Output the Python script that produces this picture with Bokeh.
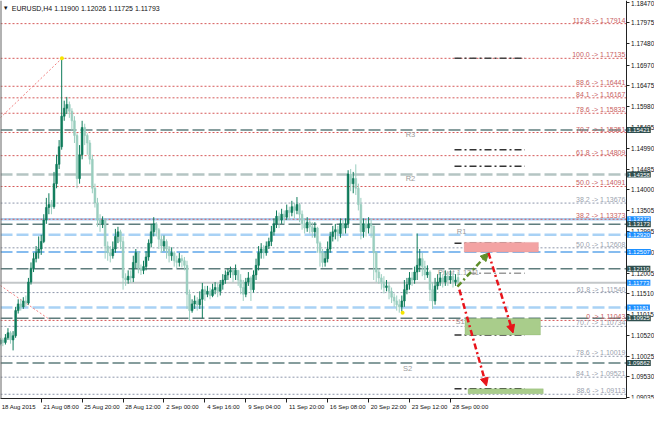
from bokeh.plotting import figure
from bokeh.models import (Range1d, FixedTicker, Span, Label, Arrow, NormalHead,
                          ColumnDataSource, BoxAnnotation)
from bokeh.embed import file_html
from bokeh.resources import INLINE
from bokeh.core.properties import value

FONT = "Liberation Sans"

# ---------------- data ----------------
bars = list(range(-16, 164))  # H4 bar index, 0 = 21 Aug 08:00
opens = [
    1.1032, 1.1041, 1.1035, 1.1046, 1.1058, 1.1041, 1.1051, 1.1111, 1.1127, 1.1120,
    1.1134, 1.1129, 1.1179, 1.1212, 1.1235, 1.1249, 1.1258, 1.1276, 1.1327, 1.1357,
    1.1364, 1.1359, 1.1414, 1.1460, 1.1502, 1.1575, 1.1594, 1.1603, 1.1587, 1.1564,
    1.1529, 1.1426, 1.1483, 1.1548, 1.1529, 1.1511, 1.1472, 1.1403, 1.1368, 1.1327,
    1.1318, 1.1327, 1.1265, 1.1249, 1.1242, 1.1258, 1.1288, 1.1299, 1.1276, 1.1189,
    1.1184, 1.1193, 1.1189, 1.1226, 1.1249, 1.1212, 1.1207, 1.1216, 1.1239, 1.1272,
    1.1299, 1.1318, 1.1304, 1.1281, 1.1265, 1.1276, 1.1258, 1.1242, 1.1249, 1.1230,
    1.1226, 1.1235, 1.1230, 1.1219, 1.1150, 1.1111, 1.1127, 1.1134, 1.1125, 1.1138,
    1.1161, 1.1150, 1.1157, 1.1147, 1.1161, 1.1166, 1.1157, 1.1173, 1.1184, 1.1196,
    1.1203, 1.1207, 1.1196, 1.1207, 1.1184, 1.1166, 1.1150, 1.1179, 1.1189, 1.1161,
    1.1196, 1.1219, 1.1249, 1.1258, 1.1249, 1.1265, 1.1276, 1.1299, 1.1318, 1.1336,
    1.1327, 1.1341, 1.1334, 1.1350, 1.1345, 1.1359, 1.1350, 1.1364, 1.1341, 1.1318,
    1.1308, 1.1322, 1.1311, 1.1299, 1.1308, 1.1272, 1.1249, 1.1226, 1.1235, 1.1258,
    1.1288, 1.1299, 1.1304, 1.1295, 1.1318, 1.1308, 1.1318, 1.1437, 1.1414, 1.1426,
    1.1403, 1.1364, 1.1299, 1.1318, 1.1308, 1.1318, 1.1313, 1.1249, 1.1203, 1.1189,
    1.1179, 1.1166, 1.1170, 1.1157, 1.1143, 1.1134, 1.1125, 1.1120, 1.1134, 1.1161,
    1.1173, 1.1189, 1.1184, 1.1203, 1.1219, 1.1235, 1.1216, 1.1196, 1.1203, 1.1161,
    1.1134, 1.1170, 1.1179, 1.1189, 1.1179, 1.1193, 1.1184, 1.1193, 1.1179, 1.1190,
]
highs = [
    1.1046, 1.1046, 1.1055, 1.1069, 1.1062, 1.1062, 1.1120, 1.1138, 1.1138, 1.1143,
    1.1147, 1.1189, 1.1226, 1.1249, 1.1265, 1.1288, 1.1292, 1.1341, 1.1380, 1.1391,
    1.1375, 1.1442, 1.1483, 1.1518, 1.1713, 1.1612, 1.1621, 1.1610, 1.1594, 1.1575,
    1.1534, 1.1506, 1.1564, 1.1557, 1.1534, 1.1518, 1.1483, 1.1414, 1.1380, 1.1341,
    1.1336, 1.1331, 1.1276, 1.1265, 1.1276, 1.1306, 1.1311, 1.1304, 1.1288, 1.1200,
    1.1207, 1.1207, 1.1242, 1.1258, 1.1253, 1.1221, 1.1230, 1.1253, 1.1281, 1.1318,
    1.1334, 1.1322, 1.1308, 1.1290, 1.1290, 1.1281, 1.1265, 1.1262, 1.1253, 1.1242,
    1.1249, 1.1244, 1.1239, 1.1230, 1.1161, 1.1138, 1.1147, 1.1143, 1.1157, 1.1177,
    1.1170, 1.1170, 1.1166, 1.1175, 1.1179, 1.1177, 1.1184, 1.1198, 1.1207, 1.1212,
    1.1216, 1.1212, 1.1221, 1.1207, 1.1198, 1.1184, 1.1189, 1.1203, 1.1193, 1.1207,
    1.1235, 1.1265, 1.1272, 1.1267, 1.1276, 1.1285, 1.1313, 1.1331, 1.1350, 1.1345,
    1.1354, 1.1350, 1.1364, 1.1359, 1.1373, 1.1368, 1.1382, 1.1368, 1.1350, 1.1331,
    1.1334, 1.1327, 1.1322, 1.1322, 1.1311, 1.1276, 1.1258, 1.1253, 1.1276, 1.1299,
    1.1313, 1.1318, 1.1313, 1.1331, 1.1327, 1.1331, 1.1446, 1.1449, 1.1442, 1.1460,
    1.1414, 1.1380, 1.1331, 1.1327, 1.1334, 1.1331, 1.1313, 1.1253, 1.1212, 1.1198,
    1.1193, 1.1184, 1.1179, 1.1166, 1.1152, 1.1147, 1.1138, 1.1147, 1.1184, 1.1189,
    1.1203, 1.1203, 1.1216, 1.1295, 1.1258, 1.1249, 1.1230, 1.1219, 1.1207, 1.1179,
    1.1189, 1.1198, 1.1203, 1.1198, 1.1207, 1.1203, 1.1207, 1.1200, 1.1198, 1.1203,
]
lows = [
    1.1028, 1.1026, 1.1030, 1.1041, 1.1032, 1.1016, 1.1046, 1.1104, 1.1111, 1.1115,
    1.1120, 1.1125, 1.1173, 1.1203, 1.1226, 1.1235, 1.1244, 1.1272, 1.1318, 1.1341,
    1.1341, 1.1354, 1.1403, 1.1449, 1.1495, 1.1564, 1.1580, 1.1571, 1.1541, 1.1511,
    1.1403, 1.1414, 1.1472, 1.1506, 1.1483, 1.1460, 1.1391, 1.1357, 1.1311, 1.1299,
    1.1308, 1.1235, 1.1230, 1.1226, 1.1235, 1.1249, 1.1272, 1.1258, 1.1161, 1.1170,
    1.1175, 1.1177, 1.1179, 1.1212, 1.1200, 1.1196, 1.1198, 1.1207, 1.1230, 1.1262,
    1.1288, 1.1288, 1.1258, 1.1249, 1.1253, 1.1235, 1.1226, 1.1230, 1.1216, 1.1212,
    1.1216, 1.1214, 1.1207, 1.1115, 1.1087, 1.1106, 1.1115, 1.1111, 1.1115, 1.1092,
    1.1134, 1.1143, 1.1138, 1.1143, 1.1150, 1.1143, 1.1147, 1.1161, 1.1175, 1.1184,
    1.1189, 1.1179, 1.1184, 1.1170, 1.1150, 1.1134, 1.1143, 1.1170, 1.1134, 1.1154,
    1.1184, 1.1207, 1.1235, 1.1235, 1.1242, 1.1258, 1.1265, 1.1290, 1.1308, 1.1308,
    1.1318, 1.1318, 1.1327, 1.1327, 1.1336, 1.1331, 1.1341, 1.1322, 1.1304, 1.1295,
    1.1299, 1.1295, 1.1285, 1.1285, 1.1249, 1.1216, 1.1214, 1.1216, 1.1226, 1.1249,
    1.1276, 1.1281, 1.1276, 1.1285, 1.1290, 1.1295, 1.1308, 1.1396, 1.1391, 1.1387,
    1.1350, 1.1281, 1.1285, 1.1288, 1.1295, 1.1285, 1.1184, 1.1179, 1.1175, 1.1161,
    1.1152, 1.1157, 1.1138, 1.1129, 1.1120, 1.1111, 1.1106, 1.1104, 1.1120, 1.1150,
    1.1161, 1.1170, 1.1175, 1.1184, 1.1203, 1.1193, 1.1184, 1.1189, 1.1134, 1.1115,
    1.1125, 1.1161, 1.1170, 1.1166, 1.1170, 1.1170, 1.1175, 1.1166, 1.1170, 1.1173,
]
closes = [
    1.1041, 1.1035, 1.1046, 1.1058, 1.1041, 1.1051, 1.1111, 1.1127, 1.1120, 1.1134,
    1.1129, 1.1179, 1.1212, 1.1235, 1.1249, 1.1258, 1.1276, 1.1327, 1.1357, 1.1364,
    1.1359, 1.1414, 1.1460, 1.1502, 1.1575, 1.1594, 1.1603, 1.1587, 1.1564, 1.1529,
    1.1426, 1.1483, 1.1548, 1.1529, 1.1511, 1.1472, 1.1403, 1.1368, 1.1327, 1.1318,
    1.1327, 1.1265, 1.1249, 1.1242, 1.1258, 1.1288, 1.1299, 1.1276, 1.1189, 1.1184,
    1.1193, 1.1189, 1.1226, 1.1249, 1.1212, 1.1207, 1.1216, 1.1239, 1.1272, 1.1299,
    1.1318, 1.1304, 1.1281, 1.1265, 1.1276, 1.1258, 1.1242, 1.1249, 1.1230, 1.1226,
    1.1235, 1.1230, 1.1219, 1.1150, 1.1111, 1.1127, 1.1134, 1.1125, 1.1138, 1.1161,
    1.1150, 1.1157, 1.1147, 1.1161, 1.1166, 1.1157, 1.1173, 1.1184, 1.1196, 1.1203,
    1.1207, 1.1196, 1.1207, 1.1184, 1.1166, 1.1150, 1.1179, 1.1189, 1.1161, 1.1196,
    1.1219, 1.1249, 1.1258, 1.1249, 1.1265, 1.1276, 1.1299, 1.1318, 1.1336, 1.1327,
    1.1341, 1.1334, 1.1350, 1.1345, 1.1359, 1.1350, 1.1364, 1.1341, 1.1318, 1.1308,
    1.1322, 1.1311, 1.1299, 1.1308, 1.1272, 1.1249, 1.1226, 1.1235, 1.1258, 1.1288,
    1.1299, 1.1304, 1.1295, 1.1318, 1.1308, 1.1318, 1.1437, 1.1414, 1.1426, 1.1403,
    1.1364, 1.1299, 1.1318, 1.1308, 1.1318, 1.1313, 1.1249, 1.1203, 1.1189, 1.1179,
    1.1166, 1.1170, 1.1157, 1.1143, 1.1134, 1.1125, 1.1120, 1.1134, 1.1161, 1.1173,
    1.1189, 1.1184, 1.1203, 1.1219, 1.1235, 1.1216, 1.1196, 1.1203, 1.1161, 1.1134,
    1.1170, 1.1179, 1.1189, 1.1179, 1.1193, 1.1184, 1.1193, 1.1179, 1.1184, 1.1179,
]

# time axis
time_ticks = [-16, 0, 16, 32, 48, 64, 80, 96, 112, 128, 144, 160]
time_labels = ["18 Aug 2015", "21 Aug 08:00", "25 Aug 20:00", "28 Aug 12:00", "2 Sep 00:00",
               "4 Sep 16:00", "9 Sep 04:00", "11 Sep 20:00", "16 Sep 08:00", "20 Sep 22:00",
               "23 Sep 12:00", "28 Sep 00:00"]
# price axis
price_ticks = [1.18470, 1.17975, 1.17480, 1.16970, 1.16475, 1.15980, 1.15485, 1.14990,
               1.14485, 1.14000, 1.13505, 1.12995, 1.12500, 1.12005, 1.11510, 1.11015,
               1.10520, 1.10025, 1.09530, 1.09035]
price_labels = ["%.5f" % v for v in price_ticks]

# Fibonacci (red, first swing)
red_fib_prices = [1.17959, 1.17131, 1.16464, 1.16188, 1.15820, 1.15360, 1.14808, 1.14072, 1.13290, 1.10875]
red_fib_texts = ["112.8 -> 1.17914", "100.0 -> 1.17135", "88.6 -> 1.16441", "84.1 -> 1.16167",
                 "78.6 -> 1.15832", "70.7 -> 1.15351", "61.8 -> 1.14809", "50.0 -> 1.14091",
                 "38.2 -> 1.13373", "0 -> 1.11043"]
# Fibonacci (grey, second swing)
grey_fib_prices = [1.13676, 1.12608, 1.11540, 1.10734, 1.10019, 1.09521, 1.09113]
grey_fib_texts = ["38.2 -> 1.13676", "50.0 -> 1.12608", "61.8 -> 1.11540", "70.7 -> 1.10734",
                  "78.6 -> 1.10019", "84.1 -> 1.09521", "88.6 -> 1.09113"]

# pivot / level lines
level_prices = [1.15421, 1.14358, 1.13290, 1.13173, 1.12920, 1.12507, 1.12110, 1.11773, 1.11181, 1.10925, 1.09862]
level_colors = ["#5f7d7d", "#b5c5c3", "#a9d2f5", "#5f7d7d", "#a9d2f5", "#5fa6ea", "#5f7d7d",
                "#c3c7c9", "#a9d2f5", "#5f7d7d", "#5f7d7d"]
level_widths = [1.5, 2.5, 2.5, 1.5, 2.5, 1.5, 1.5, 2.0, 2.5, 1.5, 1.5]
level_solid = [False, False, True, False, False, False, False, True, False, False, False]

# price boxes on the axis
box_prices = [1.15421, 1.14358, 1.13290, 1.13173, 1.12920, 1.12507, 1.12110, 1.11773, 1.11181, 1.10925, 1.09862]
box_texts = ["1.15421", "1.14358", "1.13373", "1.13173", "1.12920", "1.12507", "1.12110",
             "1.11773", "1.11181", "1.10925", "1.09862"]
box_colors = ["#2f4f4f", "#2f4f4f", "#1e90ff", "#2f4f4f", "#1e90ff", "#1e90ff", "#2f4f4f",
              "#1e90ff", "#1e90ff", "#2f4f4f", "#2f4f4f"]

# pivot names
pivot_names = ["R3", "R2", "R1", "S1", "S2", "Pivot 1.1211"]
pivot_name_x = [142.5, 142.5, 162.5, 162.0, 141.5, 155.1]
pivot_name_y = [1.15318, 1.14261, 1.12994, 1.10841, 1.09725, 1.12030]

# short dash-dot levels on the right
dd_prices = [1.17131, 1.14946, 1.14555, 1.12715, 1.12002, 1.10530, 1.09242]
dd_colors = ["#444444", "#333333", "#333333", "#333333", "#9a9a9a", "#333333", "#333333"]
dd_x0 = [161.6, 161.6, 161.6, 161.6, 167.3, 161.6, 161.6]
dd_x1 = [189.1, 189.1, 189.1, 189.1, 189.1, 189.1, 189.1]

# trade-idea boxes
zones_l = [165.4, 165.7, 166.9]
zones_r = [194.4, 195.2, 196.3]
zones_b = [1.12508, 1.10530, 1.09127]
zones_t = [1.12738, 1.10921, 1.09242]
zones_fill = ["#f3a3a3", "#a9cd8b", "#a9cd8b"]
zones_line = ["#d98585", "#86ad68", "#86ad68"]

# scenario arrows
arr_x0 = [162.7, 174.9, 163.5]
arr_y0 = [1.11680, 1.12485, 1.11611]
arr_x1 = [174.9, 184.5, 174.1]
arr_y1 = [1.12485, 1.10576, 1.09311]
arr_col = ["#5f8f2a", "#e8141b", "#e8141b"]

# fib trend lines and anchors
trend_x0 = [-16.0, -16.0]
trend_y0 = [1.15712, 1.11710]
trend_x1 = [8.1, 3.8]
trend_y1 = [1.17131, 1.10875]
anchor_x = [8.1, 141.3]
anchor_y = [1.17131, 1.11059]

header = "EURUSD,H4  1.11900 1.12026 1.11725 1.11793"

# ---------------- figure ----------------
X0, X1 = -15.92, 239.8      # visible bar range (includes price-scale strip)
XAX = 228.7                 # bar position of the price scale
PX_PER_BAR = 654.0 / (X1 - X0)

p = figure(width=654, height=412, output_backend="svg", toolbar_location=None,
           x_range=Range1d(X0, X1), y_range=Range1d(1.09012, 1.18511),
           y_axis_location="right", min_border_left=0, min_border_top=0,
           min_border_right=0, min_border_bottom=0)
p.background_fill_color = "white"
p.border_fill_color = "white"
p.outline_line_color = None
p.xgrid.visible = False
p.ygrid.visible = False

# left chart border
p.add_layout(Span(location=X0, dimension="height", line_color="#666666", line_width=2))

# horizontal levels (end at the price scale)
dashed = [i for i, s in enumerate(level_solid) if not s]
solid = [i for i, s in enumerate(level_solid) if s]
for idx, dash in ((dashed, "12 4"), (solid, "solid")):
    ys = [level_prices[i] for i in idx]
    p.segment([X0] * len(idx), ys, [XAX] * len(idx), ys,
              line_color=[level_colors[i] for i in idx],
              line_width=[level_widths[i] for i in idx], line_dash=dash, level="underlay")
n = len(grey_fib_prices)
p.segment([X0] * n, grey_fib_prices, [XAX] * n, grey_fib_prices, line_color="#8e97ab",
          line_width=1, line_dash="2 2", level="underlay")
n = len(red_fib_prices)
p.segment([X0] * n, red_fib_prices, [XAX] * n, red_fib_prices, line_color="#d65a5a",
          line_width=1, line_dash="2 2", level="underlay")

# trend lines of fibs
p.segment(trend_x0, trend_y0, trend_x1, trend_y1, line_color="#f08080", line_width=1,
          line_dash="2 2")

# dash-dot short levels
p.segment(dd_x0, dd_prices, dd_x1, dd_prices, line_color=dd_colors, line_width=1.5,
          line_dash="7 3 2 3")

# pivot names (behind candles)
p.text(x=pivot_name_x, y=pivot_name_y, text=pivot_names, text_font=value(FONT),
       text_font_size="7.5px", text_color="#9a9a9a", text_align="left", text_baseline="middle")

# candles
inc = [c >= o for o, c in zip(opens, closes)]
cols = ["#0e7b5a" if u else "#9acebf" for u in inc]
src = ColumnDataSource(dict(x=bars, o=opens, h=highs, l=lows, c=closes,
                            top=[max(a, b) for a, b in zip(opens, closes)],
                            bot=[min(a, b) for a, b in zip(opens, closes)], col=cols))
p.segment("x", "h", "x", "l", source=src, line_color="col", line_width=1)
p.vbar(x="x", width=0.7, top="top", bottom="bot", source=src, fill_color="col",
       line_color="col", line_width=0.6)

p.scatter(anchor_x, anchor_y, size=4, fill_color="#f5e400", line_color=None)

# zones
for l, r, b, t, f, lc in zip(zones_l, zones_r, zones_b, zones_t, zones_fill, zones_line):
    p.add_layout(BoxAnnotation(left=l, right=r, bottom=b, top=t, fill_color=f, fill_alpha=1,
                               line_color=lc, line_width=1, level="annotation"))

# arrows
for x0, y0, x1, y1, c in zip(arr_x0, arr_y0, arr_x1, arr_y1, arr_col):
    p.add_layout(Arrow(x_start=x0, y_start=y0, x_end=x1, y_end=y1, line_color=c,
                       line_width=2.5, line_dash="6 3 2 3",
                       end=NormalHead(size=8, fill_color=c, line_color=c)))

# fib texts
p.text(x=[XAX - 0.3] * len(red_fib_prices), y=red_fib_prices, text=red_fib_texts,
       text_font=value(FONT), text_font_size="7px", text_color="#c8605f",
       text_align="right", text_baseline="bottom")
p.text(x=[XAX - 0.3] * len(grey_fib_prices), y=grey_fib_prices, text=grey_fib_texts,
       text_font=value(FONT), text_font_size="7px", text_color="#9aa1ae",
       text_align="right", text_baseline="bottom")

# header
p.add_layout(Label(x=-15.0, y=1.18330, text="\u25bc", text_font=FONT, text_font_size="6px",
                   text_color="#111111", text_baseline="middle"))
p.add_layout(Label(x=-11.5, y=1.18330, text=header, text_font=FONT, text_font_size="7px",
                   text_color="#111111", text_baseline="middle"))

# price axis, drawn at the price-scale position
ya = p.yaxis[0]
ya.fixed_location = XAX
ya.ticker = FixedTicker(ticks=price_ticks)
ya.major_label_overrides = {v: t for v, t in zip(price_ticks, price_labels)}
ya.major_label_text_font = FONT
ya.major_label_text_font_size = "6.4px"
ya.major_label_text_color = "#111111"
ya.major_tick_out = 3
ya.major_tick_in = 0
ya.minor_tick_out = 0
ya.minor_tick_in = 0
ya.major_label_standoff = 2
ya.axis_line_color = "#222222"
ya.major_tick_line_color = "#222222"

# time axis: marks at the bar ticks, labels to their right
label_pos = [t + (2 + 3.0 * len(s) / 2) / PX_PER_BAR for t, s in zip(time_ticks, time_labels)]
xa = p.xaxis[0]
xa.bounds = (X0, XAX)
xa.ticker = FixedTicker(ticks=label_pos, minor_ticks=time_ticks)
xa.major_label_overrides = {v: t for v, t in zip(label_pos, time_labels)}
xa.major_label_text_font = FONT
xa.major_label_text_font_size = "6px"
xa.major_label_text_color = "#111111"
xa.major_tick_out = 0
xa.major_tick_in = 0
xa.minor_tick_out = 4
xa.minor_tick_in = 0
xa.minor_tick_line_color = "#222222"
xa.major_label_standoff = 1
xa.axis_line_color = "#222222"

# price boxes on the scale
for v, t, c in zip(box_prices, box_texts, box_colors):
    p.add_layout(Label(x=XAX, y=v, text=t, text_font=FONT, text_font_size="6px",
                       text_color="white", text_baseline="middle", text_align="left",
                       x_offset=1, background_fill_color=c, background_fill_alpha=1,
                       padding=1))

open("out.html", "w").write(file_html(p, INLINE))
